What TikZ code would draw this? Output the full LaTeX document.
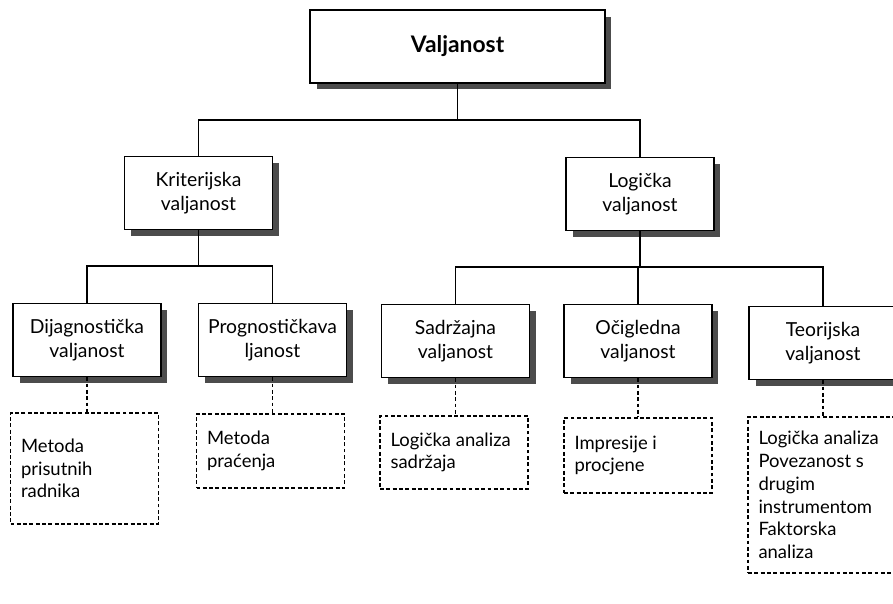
\documentclass[tikz,border=0pt]{standalone}
\usepackage{fontspec}
\setmainfont{Lato}
\usetikzlibrary{calc}
\usetikzlibrary{shadows}
\usetikzlibrary{positioning}
\hyphenpenalty=10000
\exhyphenpenalty=10000
\tikzstyle{box} = [rectangle, draw=black, line width=0.9pt, fill=white, minimum width=2.96cm, minimum height=1.46cm, align=center, font=\fontsize{11}{14}\selectfont, drop shadow={shadow xshift=0.13cm, shadow yshift=-0.13cm, fill=black!70, opacity=1}]
\tikzstyle{dbox} = [rectangle, draw=black, line width=1pt, dash pattern=on 2.2pt off 1.4pt, text width=2.54cm, inner xsep=0.21cm, align=flush left, anchor=north, font=\fontsize{10.5}{13}\selectfont]
\tikzstyle{link} = [-, draw=black, line width=0.9pt]
\tikzstyle{dlink} = [-, draw=black, line width=1pt, dash pattern=on 2.2pt off 1.4pt]

\begin{document}
\begin{tikzpicture}[x=0.02cm, y=-0.02cm]
\useasboundingbox (0,0) rectangle (893,603);
% vrh
\node [box, minimum width=5.9cm, minimum height=1.46cm, font=\fontsize{13}{16}\selectfont\bfseries] (V) at (457.5, 46.5) {Valjanost};
% druga razina
\node [box] (K) at (198.5, 193) {Kriterijska\\valjanost};
\node [box] (L) at (640, 194) {Logička\\valjanost};
% treća razina
\node [box] (Dg) at (87, 340) {Dijagnostička\\valjanost};
\node [box] (Pr) at (272.5, 340) {Prognostičkava\\ljanost};
\node [box] (Sa) at (455.5, 341) {Sadržajna\\valjanost};
\node [box] (Oc) at (638, 341) {Očigledna\\valjanost};
\node [box] (Te) at (823, 343) {Teorijska\\valjanost};
% metode
\node [dbox, minimum height=2.22cm] (M1) at (84.5, 412) {Metoda\\prisutnih\\radnika};
\node [dbox, minimum height=1.48cm] (M2) at (270.5, 413) {Metoda\\praćenja};
\node [dbox, minimum height=1.46cm] (M3) at (454, 415) {Logička analiza\\sadržaja};
\node [dbox, minimum height=1.5cm] (M4) at (638, 417) {Impresije i\\procjene};
\node [dbox, minimum height=3.12cm] (M5) at (822, 416) {Logička analiza\\Povezanost s\\drugim\\instrumentom\\Faktorska\\analiza};
% veze
\coordinate (b1) at (0, 120);
\coordinate (b2) at (0, 266);
\coordinate (b3) at (0, 267);
\draw [link] (V.south) -- (b1 -| V.south);
\draw [link] (K.north) |- (b1 -| V.south) -| (L.north);
\draw [link] (K.south) -- (b2 -| K.south);
\draw [link] (Dg.north) |- (b2 -| K.south) -| (Pr.north);
\draw [link] (L.south) -- (b3 -| L.south);
\draw [link] (Sa.north) |- (b3 -| L.south) -| (Te.north);
\draw [link] (Oc.north) -- (b3 -| Oc.north);
\draw [dlink] (Dg.south) -- (Dg.south |- M1.north);
\draw [dlink] (Pr.south) -- (Pr.south |- M2.north);
\draw [dlink] (Sa.south) -- (Sa.south |- M3.north);
\draw [dlink] (Oc.south) -- (Oc.south |- M4.north);
\draw [dlink] (Te.south) -- (Te.south |- M5.north);
\end{tikzpicture}
\end{document}
